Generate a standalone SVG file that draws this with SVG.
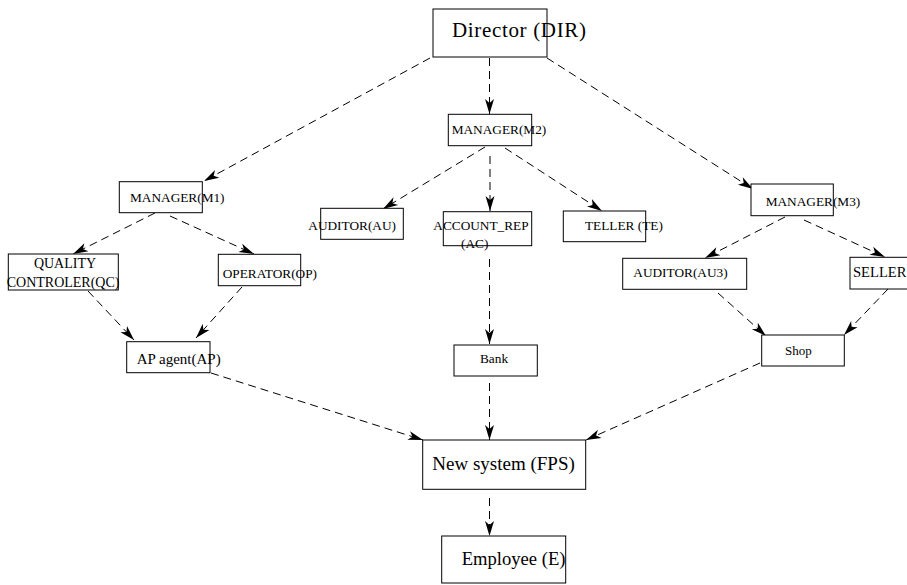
<svg xmlns="http://www.w3.org/2000/svg" width="907" height="585" viewBox="0 0 907 585">
<style>
.box{fill:#fff;stroke:#000;stroke-width:1}
.t{font-family:"Liberation Serif","Times New Roman",serif;fill:#000;font-size:13.3px}
.edge{fill:none;stroke:#000;stroke-width:1;stroke-dasharray:8 5}
</style>
<defs>
<marker id="ah" markerUnits="userSpaceOnUse" markerWidth="20" markerHeight="12" viewBox="-16 -6 17 12" refX="0" refY="0" orient="auto">
<path d="M0,0 L-15,-4.5 L-11,0 L-15,4.5 Z" fill="#000"/>
</marker>
</defs>
<rect width="907" height="585" fill="#fff"/>
<g id="connectors">
<line class="edge" x1="430" y1="58" x2="204" y2="181" marker-end="url(#ah)"/>
<line class="edge" x1="489.5" y1="58" x2="489.5" y2="114" marker-end="url(#ah)"/>
<line class="edge" x1="547" y1="58" x2="753" y2="189" marker-end="url(#ah)"/>
<line class="edge" x1="485" y1="147" x2="383" y2="209" marker-end="url(#ah)"/>
<line class="edge" x1="490" y1="156" x2="490" y2="211" marker-end="url(#ah)"/>
<line class="edge" x1="505" y1="148" x2="602" y2="211" marker-end="url(#ah)"/>
<line class="edge" x1="155" y1="213" x2="73" y2="254" marker-end="url(#ah)"/>
<line class="edge" x1="170" y1="216" x2="254" y2="254" marker-end="url(#ah)"/>
<line class="edge" x1="88" y1="291" x2="134" y2="340" marker-end="url(#ah)"/>
<line class="edge" x1="242" y1="287" x2="196" y2="338" marker-end="url(#ah)"/>
<line class="edge" x1="211" y1="373" x2="423" y2="440" marker-end="url(#ah)"/>
<line class="edge" x1="489.5" y1="259" x2="489.5" y2="344" marker-end="url(#ah)"/>
<line class="edge" x1="489.5" y1="383" x2="489.5" y2="440" marker-end="url(#ah)"/>
<line class="edge" x1="760" y1="363" x2="586" y2="440" marker-end="url(#ah)"/>
<line class="edge" x1="785" y1="217" x2="705" y2="258" marker-end="url(#ah)"/>
<line class="edge" x1="804" y1="220" x2="885" y2="257" marker-end="url(#ah)"/>
<line class="edge" x1="718" y1="293" x2="766" y2="336" marker-end="url(#ah)"/>
<line class="edge" x1="888" y1="289" x2="844" y2="335" marker-end="url(#ah)"/>
<line class="edge" x1="489.5" y1="498" x2="489.5" y2="536" marker-end="url(#ah)"/>
</g>
<g id="DIR"><rect class="box" x="433" y="9" width="114" height="48"/><text class="t" x="452" y="37.3" style="font-size:21px" textLength="134">Director (DIR)</text></g>
<g id="M2"><rect class="box" x="448.3" y="114.3" width="83.4" height="31.4"/><text class="t" x="451.7" y="134.3">MANAGER(M2)</text></g>
<g id="AU"><rect class="box" x="320.7" y="208.3" width="82.6" height="31"/><text class="t" x="308.3" y="230">AUDITOR(AU)</text></g>
<g id="AC"><rect class="box" x="443.3" y="211.7" width="88.4" height="34"/><text class="t" x="433.3" y="230">ACCOUNT_REP</text><text class="t" x="461" y="248">(AC)</text></g>
<g id="TE"><rect class="box" x="563.3" y="211" width="82.4" height="30.7"/><text class="t" x="585" y="230">TELLER (TE)</text></g>
<g id="M3"><rect class="box" x="751" y="184" width="82.3" height="31.7"/><text class="t" x="765.7" y="206">MANAGER(M3)</text></g>
<g id="AU3"><rect class="box" x="622.7" y="258.3" width="124" height="31"/><text class="t" x="633.3" y="276.7">AUDITOR(AU3)</text></g>
<g id="SELLER"><rect class="box" x="850" y="257.3" width="70" height="31.7"/><text class="t" x="853" y="276.7" style="font-size:14.6px">SELLER</text></g>
<g id="Shop"><rect class="box" x="761.7" y="335" width="82.6" height="31"/><text class="t" x="785" y="355" style="font-size:13px">Shop</text></g>
<g id="Bank"><rect class="box" x="454" y="345" width="83.3" height="31"/><text class="t" x="480" y="363.3">Bank</text></g>
<g id="FPS"><rect class="box" x="422.7" y="440" width="163" height="49.3"/><text class="t" x="432.3" y="470" style="font-size:19px">New system (FPS)</text></g>
<g id="E"><rect class="box" x="441.7" y="536" width="124" height="47"/><text class="t" x="461.7" y="565" style="font-size:18.6px">Employee (E)</text></g>
<g id="M1"><rect class="box" x="119.3" y="181.7" width="83" height="31"/><text class="t" x="130" y="201.7">MANAGER(M1)</text></g>
<g id="OP"><rect class="box" x="218.3" y="254.3" width="82.4" height="31.4"/><text class="t" x="222.7" y="278.3">OPERATOR(OP)</text></g>
<g id="QC"><rect class="box" x="8.3" y="254" width="110" height="36"/><text class="t" x="65" y="268.3" text-anchor="middle" style="font-size:14px">QUALITY</text><text class="t" x="6.7" y="286.7" style="font-size:14px">CONTROLER(QC)</text></g>
<g id="AP"><rect class="box" x="126.7" y="341.7" width="83.3" height="31"/><text class="t" x="136.7" y="364" style="font-size:15px">AP agent(AP)</text></g>
</svg>
